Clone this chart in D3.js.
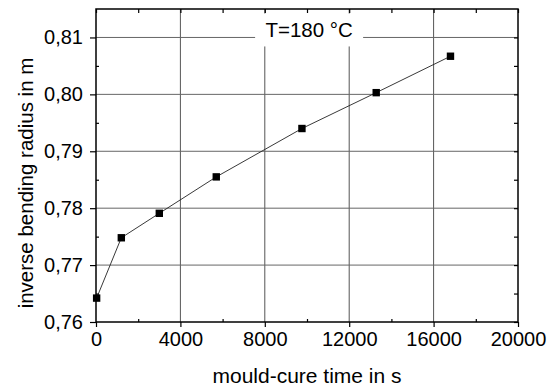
<!DOCTYPE html>
<html><head><meta charset="utf-8">
<script src="https://cdn.jsdelivr.net/npm/d3@7"></script>
<style>
html,body{margin:0;padding:0;background:#fff;}
text{font-family:"Liberation Sans",Arial,Helvetica,sans-serif;fill:#000;}
</style></head>
<body><svg id="c" width="555" height="390"></svg>
<script>
const timeS = [30, 1200, 3000, 5700, 9760, 13280, 16800];
const invRadius = [0.7642, 0.7748, 0.7791, 0.7855, 0.7940, 0.8003, 0.8067];
const xTicks = [0, 4000, 8000, 12000, 16000, 20000];
const yTicks = [0.76, 0.77, 0.78, 0.79, 0.80, 0.81];
const xMinor = [2000, 6000, 10000, 14000, 18000];
const yMinor = [0.765, 0.775, 0.785, 0.795, 0.805];
const legendText = "T=180 °C";
const xTitle = "mould-cure time in s";
const yTitle = "inverse bending radius in m";

const W = 555, H = 390;
const m = {l: 96, r: 37, t: 9, b: 68};
const svg = d3.select("#c");
const x = d3.scaleLinear().domain([0, 20000]).range([m.l, W - m.r]);
const y = d3.scaleLinear().domain([0.76, 0.815]).range([H - m.b, m.t]);
const fmtY = d => d3.format(".2f")(d).replace(".", ",");

// grid
const g = svg.append("g");
g.selectAll("line.gx").data(xTicks.slice(1, -1)).join("line")
  .attr("x1", d => x(d)).attr("x2", d => x(d)).attr("y1", y.range()[0]).attr("y2", y.range()[1])
  .attr("stroke", "#555").attr("stroke-width", 1);
g.selectAll("line.gy").data(yTicks.slice(1)).join("line")
  .attr("y1", d => y(d)).attr("y2", d => y(d)).attr("x1", x.range()[0]).attr("x2", x.range()[1])
  .attr("stroke", "#666").attr("stroke-width", 1);

// legend box covering gridline
const lx = x(10100), ly = y(0.81);
svg.append("rect").attr("x", lx - 54).attr("y", ly - 24).attr("width", 108).attr("height", 33).attr("fill", "#fff");
svg.append("text").attr("x", lx).attr("y", ly - 0.8).attr("text-anchor", "middle")
  .attr("font-size", 20.5).text(legendText);

// axes
const axB = d3.axisBottom(x).tickValues(xTicks).tickSize(5).tickPadding(5).tickFormat(d3.format("d"));
const axL = d3.axisLeft(y).tickValues(yTicks).tickSize(6).tickPadding(7).tickFormat(fmtY);
const axT = d3.axisBottom(x).tickValues(xTicks.concat(xMinor)).tickSize(4).tickFormat("");
const axR = d3.axisRight(y).tickValues(yTicks.concat(yMinor)).tickSize(-4).tickFormat("");
const axBm = d3.axisTop(x).tickValues(xMinor).tickSize(3).tickFormat("");
const axLm = d3.axisRight(y).tickValues(yMinor).tickSize(3).tickFormat("");

function style(sel, fs) {
  sel.select(".domain").remove();
  sel.selectAll("line").attr("stroke", "#000").attr("stroke-width", 1.2);
  sel.selectAll("text").attr("font-size", fs).attr("font-family", "Liberation Sans, Arial, sans-serif").attr("fill", "#000");
}
svg.append("g").attr("transform", `translate(0,${H - m.b})`).call(axB).call(s => style(s, 20));
svg.append("g").attr("transform", `translate(${m.l},0)`).call(axL).call(s => style(s, 20));
svg.append("g").attr("transform", `translate(0,${m.t})`).call(axT).call(s => style(s, 20));
svg.append("g").attr("transform", `translate(${W - m.r},0)`).call(axR).call(s => style(s, 20));
svg.append("g").attr("transform", `translate(0,${H - m.b})`).call(axBm).call(s => style(s, 20));
svg.append("g").attr("transform", `translate(${m.l},0)`).call(axLm).call(s => style(s, 20));

// frame
svg.append("rect").attr("x", m.l).attr("y", m.t).attr("width", W - m.l - m.r).attr("height", H - m.t - m.b)
  .attr("fill", "none").attr("stroke", "#000").attr("stroke-width", 1.5);

// data line + markers
const pts = timeS.map((t, i) => [t, invRadius[i]]);
svg.append("path").datum(pts)
  .attr("d", d3.line().x(d => x(d[0])).y(d => y(d[1])))
  .attr("fill", "none").attr("stroke", "#222").attr("stroke-width", 0.9);
svg.selectAll("rect.pt").data(pts).join("rect").attr("class", "pt")
  .attr("x", d => x(d[0]) - 3.7).attr("y", d => y(d[1]) - 3.7).attr("width", 7.4).attr("height", 7.4)
  .attr("fill", "#000");

// titles
svg.append("text").attr("x", 307).attr("y", 383).attr("text-anchor", "middle")
  .attr("font-size", 21).text(xTitle);
svg.append("text").attr("transform", `translate(33,183) rotate(-90)`).attr("text-anchor", "middle")
  .attr("font-size", 20.5).text(yTitle);
</script></body></html>
